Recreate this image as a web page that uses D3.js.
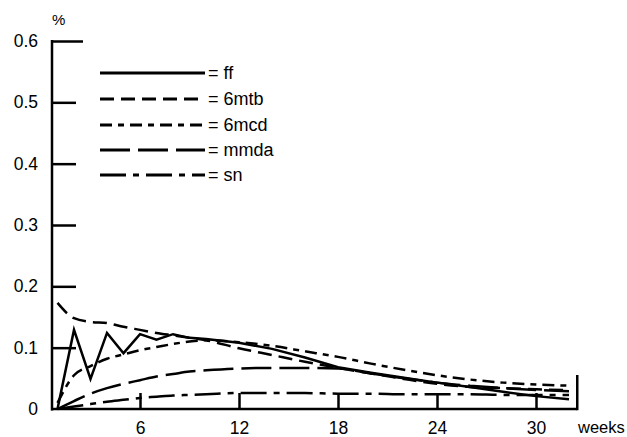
<!DOCTYPE html>
<html>
<head>
<meta charset="utf-8">
<script src="https://cdn.jsdelivr.net/npm/d3@7"></script>
<style>
  body { margin: 0; background: #fff; }
  svg { display: block; font-family: "Liberation Sans", Arial, sans-serif; }
</style>
</head>
<body>
<svg id="chart" width="627" height="437"></svg>
<script>
const weeks = [1, 2, 3, 4, 5, 6, 7, 8, 9, 10, 12, 14, 16, 18, 20, 22, 24, 26, 28, 30, 32];

const ff   = [0.000, 0.129, 0.049, 0.124, 0.091, 0.122, 0.113, 0.122, 0.116, 0.114, 0.108, 0.098, 0.084, 0.068, 0.059, 0.051, 0.043, 0.036, 0.028, 0.021, 0.016];
const mtb6 = [0.173, 0.148, 0.142, 0.140, 0.134, 0.129, 0.124, 0.120, 0.116, 0.112, 0.099, 0.088, 0.077, 0.067, 0.058, 0.049, 0.041, 0.036, 0.034, 0.032, 0.031];
const mcd6 = [0.010, 0.055, 0.070, 0.082, 0.089, 0.096, 0.101, 0.106, 0.110, 0.112, 0.109, 0.103, 0.094, 0.085, 0.074, 0.064, 0.055, 0.048, 0.043, 0.040, 0.038];
const mmda = [0.000, 0.013, 0.025, 0.034, 0.041, 0.047, 0.053, 0.057, 0.061, 0.063, 0.066, 0.067, 0.067, 0.066, 0.058, 0.050, 0.043, 0.038, 0.034, 0.031, 0.029];
const sn   = [0.000, 0.004, 0.008, 0.012, 0.015, 0.018, 0.020, 0.022, 0.023, 0.024, 0.026, 0.026, 0.026, 0.025, 0.025, 0.024, 0.024, 0.024, 0.023, 0.023, 0.023];

const seriesNames = ["ff", "6mtb", "6mcd", "mmda", "sn"];
const seriesValues = [ff, mtb6, mcd6, mmda, sn];
const dashes = [null, "14,7", "12,6,6,6", "30,8", "26,7,6,7"];

const yTicks = [0, 0.1, 0.2, 0.3, 0.4, 0.5, 0.6];
const xTicks = [6, 12, 18, 24, 30];

const svg = d3.select("#chart");

const x = d3.scaleLinear().domain([0, 32.5]).range([41, 577.25]);
const y = d3.scaleLinear().domain([0, 0.6]).range([409, 41]);
const axisX = 52;

// y axis: ticks point into the plot, labels on the left
const gy = svg.append("g")
  .attr("transform", "translate(" + axisX + ",0)")
  .call(d3.axisLeft(y)
    .tickValues(yTicks)
    .tickSizeInner(-24)
    .tickSizeOuter(0)
    .tickPadding(14)
    .tickFormat(function(d) { return d === 0 ? "0" : d3.format(".1f")(d); }));
gy.select(".domain").remove();
gy.selectAll(".tick line").attr("stroke", "#000").attr("stroke-width", 2.5)
  .filter(function(d) { return d === 0; }).remove();
gy.selectAll(".tick line").filter(function(d) { return d === 0.6; }).attr("x2", 31);
gy.selectAll(".tick text").attr("font-size", "17.5px").attr("fill", "#000");

svg.append("line")
  .attr("x1", axisX).attr("x2", axisX)
  .attr("y1", y(0.6) - 1).attr("y2", y(0) + 1.5)
  .attr("stroke", "#000").attr("stroke-width", 2.5);

svg.append("text")
  .attr("x", 52).attr("y", 25)
  .attr("font-size", "15px")
  .text("%");

// x axis: ticks point up
const gx = svg.append("g")
  .attr("transform", "translate(0," + y(0) + ")")
  .call(d3.axisBottom(x)
    .tickValues(xTicks)
    .tickSizeInner(-16)
    .tickSizeOuter(0)
    .tickPadding(13));
gx.select(".domain").remove();
gx.selectAll(".tick line").attr("stroke", "#000").attr("stroke-width", 2.5);
gx.selectAll(".tick text").attr("font-size", "17.5px").attr("fill", "#000");

svg.append("line")
  .attr("x1", axisX - 1).attr("x2", x(32.5))
  .attr("y1", y(0)).attr("y2", y(0))
  .attr("stroke", "#000").attr("stroke-width", 2.5);
svg.append("line")
  .attr("x1", x(32.5)).attr("x2", x(32.5))
  .attr("y1", y(0) + 1.2).attr("y2", y(0) - 34)
  .attr("stroke", "#000").attr("stroke-width", 2.5);

svg.append("text")
  .attr("x", 578).attr("y", 433)
  .attr("font-size", "16.5px")
  .text("weeks");

// data lines
seriesValues.forEach(function(vals, i) {
  const line = d3.line()
    .x(function(d, j) { return x(weeks[j]); })
    .y(function(d) { return y(d); })
    .curve(i === 0 ? d3.curveLinear : d3.curveMonotoneX);
  svg.append("path")
    .datum(vals)
    .attr("d", line)
    .attr("fill", "none")
    .attr("stroke", "#000")
    .attr("stroke-width", 2.5)
    .attr("stroke-dasharray", dashes[i]);
});

// legend
const legendY = [73, 99, 125, 150, 175];
seriesNames.forEach(function(name, i) {
  svg.append("line")
    .attr("x1", 100).attr("x2", 205)
    .attr("y1", legendY[i]).attr("y2", legendY[i])
    .attr("stroke", "#000")
    .attr("stroke-width", 2.8)
    .attr("stroke-dasharray", dashes[i]);
  svg.append("text")
    .attr("x", 208).attr("y", legendY[i] + 6)
    .attr("font-size", "18px")
    .text("= " + name);
});
</script>
</body>
</html>
